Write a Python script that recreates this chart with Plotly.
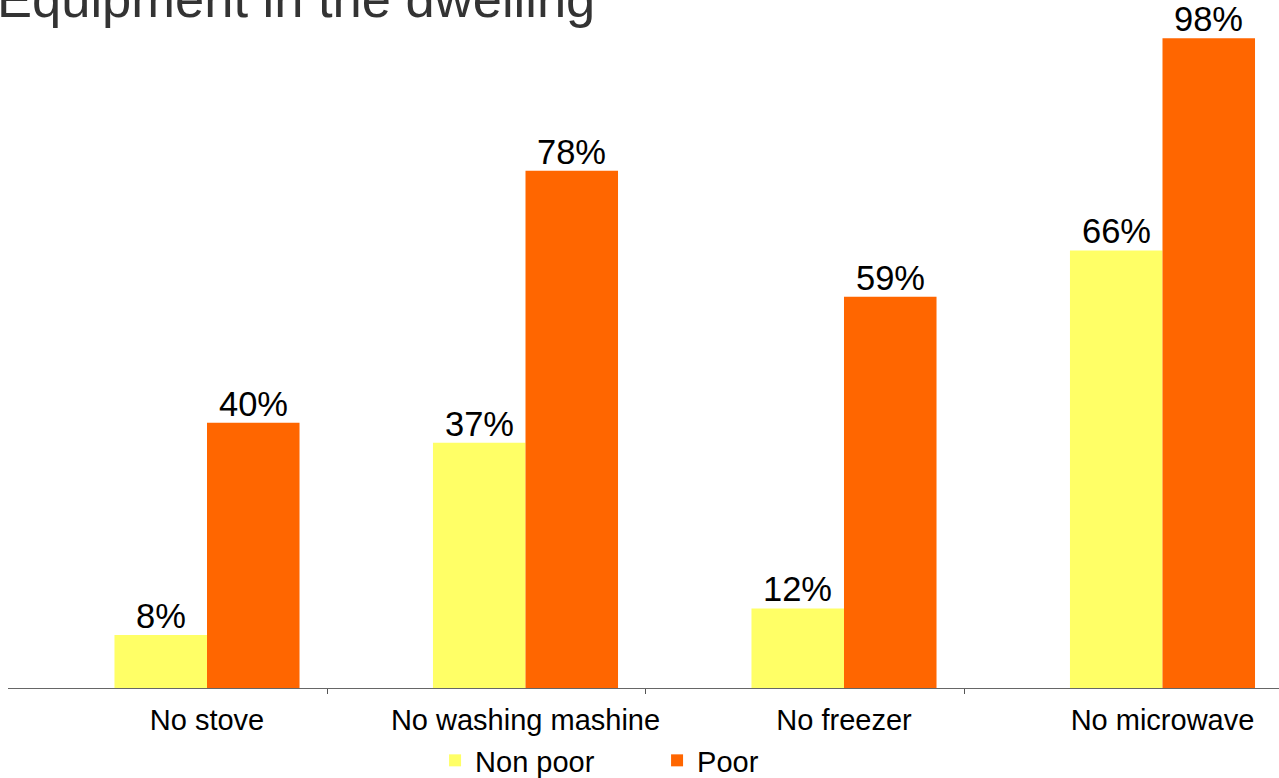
import plotly.graph_objects as go

categories = ["No stove", "No washing mashine", "No freezer", "No microwave"]
non_poor = [8, 37, 12, 66]
poor = [40, 78, 59, 98]
series_names = ["Non poor", "Poor"]
colors = ["#FFFF66", "#FF6600"]
title_text = "Equipment in the dwelling"

pos = list(range(len(categories)))
boundaries = [p + 0.377 for p in pos[:-1]]

FONT = "Liberation Sans, Arial, sans-serif"
BARGAP = 0.419
half = (1 - BARGAP) / 4  # half of one bar's width in axis units

fig = go.Figure()
for name, vals, col in zip(series_names, [non_poor, poor], colors):
    fig.add_trace(go.Bar(
        x=pos, y=vals, name=name,
        marker=dict(color=col, line=dict(width=0)),
        hovertemplate="%{y}%<extra>" + name + "</extra>",
    ))

# invisible trace to carry the category-label axis
fig.add_trace(go.Scatter(x=pos, y=[0]*len(pos), xaxis="x2", mode="markers",
                         marker=dict(opacity=0), showlegend=False, hoverinfo="skip"))

annotations = []
for vals, sgn in [(non_poor, -1), (poor, 1)]:
    for p, v in zip(pos, vals):
        annotations.append(dict(
            text=f"{v}%", x=p + sgn * half, y=v, xref="x", yref="y",
            xanchor="center", yanchor="bottom", showarrow=False, yshift=-2,
            font=dict(size=34.5, color="black", family=FONT)))

annotations.append(dict(text=title_text, xref="paper", yref="paper", x=0, y=0.9925,
                        xanchor="left", yanchor="bottom", showarrow=False, xshift=-13,
                        font=dict(size=52.5, color="#333333", family=FONT)))

xr = [-0.6248, 3.3658]
fig.update_layout(
    width=1279, height=778,
    margin=dict(l=8, r=0, t=25, b=90, autoexpand=False),
    plot_bgcolor="white", paper_bgcolor="white",
    barmode="group", bargap=BARGAP, bargroupgap=0,
    font=dict(family=FONT, color="black"),
    xaxis=dict(range=xr, tickvals=boundaries, ticktext=["", "", ""],
               ticks="outside", ticklen=5, tickcolor="#555555", tickwidth=1,
               showline=True, linecolor="#666666", linewidth=1,
               showgrid=False, zeroline=False),
    xaxis2=dict(range=xr, overlaying="x", tickvals=pos, ticktext=categories,
                ticks="", showline=False, showgrid=False, zeroline=False,
                side="bottom", ticklabelstandoff=12,
                tickfont=dict(size=29, color="black", family=FONT)),
    yaxis=dict(range=[0, 100], visible=False, showgrid=False, zeroline=False),
    legend=dict(orientation="h", x=0.336, xanchor="left", y=-0.1478, yanchor="bottom",
                font=dict(size=29, color="black", family=FONT),
                entrywidth=177, entrywidthmode="pixels", bgcolor="rgba(0,0,0,0)"),
    showlegend=True,
    annotations=annotations,
)

fig.write_html("out.html", config={"displayModeBar": False},
               post_script="document.body.style.margin='0';document.body.style.overflow='hidden';")
